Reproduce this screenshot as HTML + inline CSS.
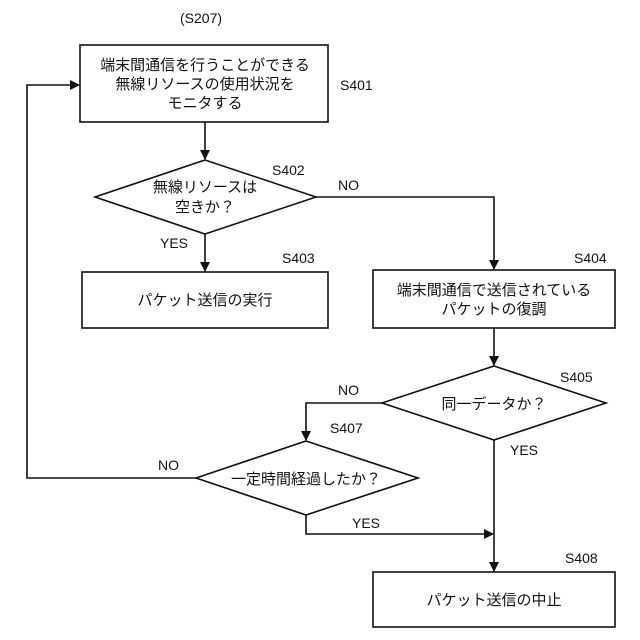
<!DOCTYPE html>
<html><head><meta charset="utf-8"><style>
html,body{margin:0;padding:0;background:#fff;}
svg{display:block;}
text{font-family:"Liberation Sans","Noto Sans CJK JP",sans-serif;font-size:15px;fill:#111;}
.l{font-size:14px;}
</style></head><body>
<svg width="640" height="640" viewBox="0 0 640 640">
<defs><marker id="a" markerWidth="10" markerHeight="10" refX="9" refY="5" orient="auto" markerUnits="userSpaceOnUse"><path d="M0,0 L10,5 L0,10 z" fill="#111"/></marker></defs>
<g stroke="#111" stroke-width="1.6" fill="none">
<rect x="80" y="45" width="248" height="77"/>
<rect x="82" y="272" width="246" height="56"/>
<rect x="373" y="270" width="242" height="58"/>
<rect x="373" y="572" width="242" height="55"/>
<polygon points="205,160 316,197 205,234 95,197"/>
<polygon points="494,366 606,403 494,440 382,403"/>
<polygon points="306,441 418,478 306,515 196,478"/>
<line x1="205" y1="122" x2="205" y2="159" marker-end="url(#a)"/>
<line x1="205" y1="234" x2="205" y2="271" marker-end="url(#a)"/>
<polyline points="316,197 494,197 494,269" marker-end="url(#a)"/>
<line x1="494" y1="328" x2="494" y2="365" marker-end="url(#a)"/>
<polyline points="382,403 306,403 306,440" marker-end="url(#a)"/>
<line x1="494" y1="440" x2="494" y2="571" marker-end="url(#a)"/>
<polyline points="306,515 306,534 493,534" marker-end="url(#a)"/>
<polyline points="196,478 27,478 27,85 79,85" marker-end="url(#a)"/>
</g>
<text x="180" y="23" class="l">(S207)</text>
<g text-anchor="middle">
<text x="205" y="70">端末間通信を行うことができる</text>
<text x="205" y="89">無線リソースの使用状況を</text>
<text x="205" y="108">モニタする</text>
<text x="205" y="192">無線リソースは</text>
<text x="205" y="212">空きか？</text>
<text x="205" y="305">パケット送信の実行</text>
<text x="494" y="295">端末間通信で送信されている</text>
<text x="494" y="314">パケットの復調</text>
<text x="494" y="409">同一データか？</text>
<text x="306" y="484">一定時間経過したか？</text>
<text x="494" y="605">パケット送信の中止</text>
</g>
<g class="l">
<text x="340" y="90" class="l">S401</text>
<text x="272" y="175" class="l">S402</text>
<text x="282" y="263" class="l">S403</text>
<text x="574" y="263" class="l">S404</text>
<text x="560" y="382" class="l">S405</text>
<text x="330" y="433" class="l">S407</text>
<text x="565" y="563" class="l">S408</text>
<text x="338" y="190" class="l">NO</text>
<text x="160" y="248" class="l">YES</text>
<text x="338" y="395" class="l">NO</text>
<text x="510" y="455" class="l">YES</text>
<text x="158" y="470" class="l">NO</text>
<text x="352" y="528" class="l">YES</text>
</g>
</svg>
</body></html>
